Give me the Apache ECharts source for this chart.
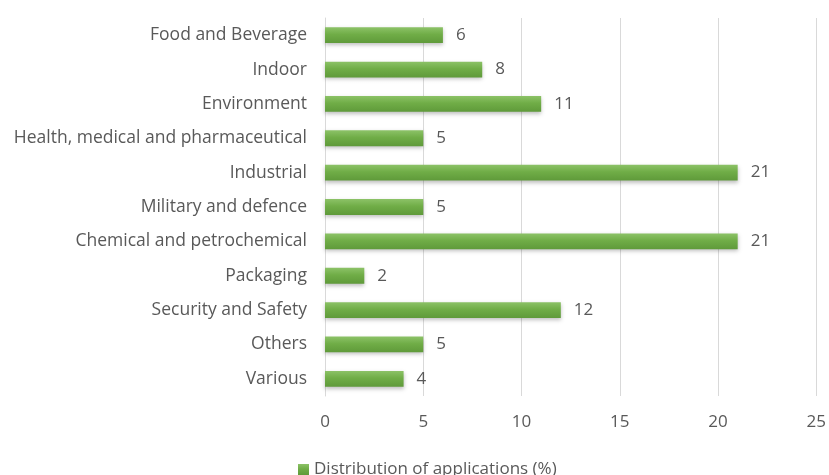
<!DOCTYPE html>
<html>
<head>
<meta charset="utf-8">
<script src="https://cdn.jsdelivr.net/npm/echarts@6/dist/echarts.min.js"></script>
<style>
  html, body { margin: 0; padding: 0; background: #fff; }
  #chart { width: 829px; height: 475px; }
</style>
</head>
<body>
<div id="chart"></div>
<script>
// Application areas, listed top to bottom
const categories = [
  'Food and Beverage',
  'Indoor',
  'Environment',
  'Health, medical and pharmaceutical',
  'Industrial',
  'Military and defence',
  'Chemical and petrochemical',
  'Packaging',
  'Security and Safety',
  'Others',
  'Various'
];
// Share of applications (%)
const shares = [6, 8, 11, 5, 21, 5, 21, 2, 12, 5, 4];
const seriesName = 'Distribution of applications (%)';
const xTicks = [0, 5, 10, 15, 20, 25];

const font = '"Open Sans", Lato, sans-serif';
const textColor = '#595959';

const chart = echarts.init(document.getElementById('chart'), null, { renderer: 'canvas' });

chart.setOption({
  animation: false,
  backgroundColor: '#ffffff',
  grid: { left: 325, right: 10, top: 18, bottom: 79, containLabel: false },
  legend: {
    data: [seriesName],
    left: 293,
    top: 456,
    itemWidth: 11,
    itemHeight: 11,
    itemGap: 5,
    icon: 'rect',
    textStyle: { color: textColor, fontSize: 17, fontFamily: font }
  },
  xAxis: {
    type: 'value',
    min: xTicks[0],
    max: xTicks[xTicks.length - 1],
    interval: 5,
    axisLine: { show: false },
    axisTick: { show: false },
    splitLine: { show: true, lineStyle: { color: '#d9d9d9', width: 1 } },
    axisLabel: { color: textColor, fontSize: 17, fontFamily: font, margin: 18 }
  },
  yAxis: {
    type: 'category',
    inverse: true,
    data: categories,
    axisLine: { show: true, lineStyle: { color: '#d9d9d9', width: 1 } },
    axisTick: { show: false },
    axisLabel: { color: textColor, fontSize: 17.5, fontFamily: font, margin: 18 }
  },
  series: [{
    name: seriesName,
    type: 'bar',
    data: shares,
    barCategoryGap: '54%',
    itemStyle: {
      color: new echarts.graphic.LinearGradient(0, 0, 0, 1, [
        { offset: 0, color: '#8cc267' },
        { offset: 0.45, color: '#70ad47' },
        { offset: 1, color: '#5f9a3a' }
      ]),
      shadowColor: 'rgba(0,0,0,0.25)',
      shadowBlur: 4,
      shadowOffsetY: 2
    },
    label: {
      show: true,
      position: 'right',
      distance: 13,
      color: textColor,
      fontSize: 17,
      fontFamily: font
    }
  }]
});
</script>
</body>
</html>
